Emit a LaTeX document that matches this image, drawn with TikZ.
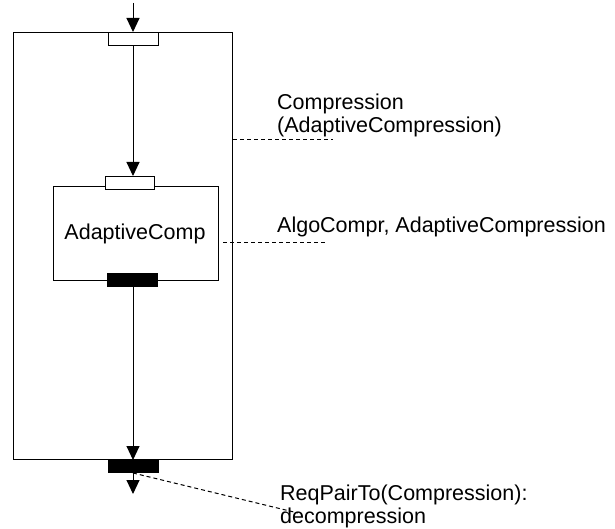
\documentclass[tikz,border=0pt]{standalone}
\usepackage{fontspec}
\setmainfont{Liberation Sans}
\usetikzlibrary{arrows.meta}
\begin{document}
\begin{tikzpicture}[x=1pt,y=-1pt,
  every node/.style={font=\fontsize{21.5}{23}\selectfont},
  box/.style={draw,line width=1pt,minimum width=#1,anchor=north west,inner sep=0},
  portin/.style={draw,fill=white,line width=1pt,minimum width=50pt,minimum height=13pt,inner sep=0,anchor=north west},
  portout/.style={draw,fill=black,line width=1pt,minimum width=50pt,minimum height=13pt,inner sep=0,anchor=north west},
  flow/.style={line width=1pt,-{Triangle[length=14pt,width=13pt]}},
  lead/.style={line width=1pt,dash pattern=on 4pt off 3pt},
  lbl/.style={anchor=base west,align=left,inner sep=0}]
\useasboundingbox (0,0) rectangle (615,529);

% enclosing component and its ports
\node[box=219pt,minimum height=427pt] (outer) at (13,32) {};
\node[portin] (oin) at (108,32) {};
\node[portout] (oout) at (108,459) {};

% nested component
\node[box=165pt,minimum height=94pt] (inner) at (53,186) {};
\node[portin,minimum width=49pt] (iin) at (105,176) {};
\node[portout] (iout) at (107,273) {};
\node[anchor=base,inner sep=0] (iname) at (135,240) {AdaptiveComp};

% data flow
\coordinate (src) at (133,3);
\coordinate (sink) at (133,494);
\draw[flow] (src) -- (src |- oin.north);
\draw[flow] (oin.south -| src) -- (src |- iin.north);
\draw[flow] (iout.south -| src) -- (src |- outer.south);
\draw[flow] (oout.south -| src) -- (sink);

% annotations (multi-line labels are placed by the baseline of their last line)
\coordinate (a1) at (333,140);
\coordinate (a2) at (325,242);
\coordinate (a3) at (298,513);
\draw[lead] (outer.east |- a1) -- (a1);
\draw[lead] ([xshift=4pt]inner.east |- a2) -- (a2);
\draw[lead] (oout.south -| src) -- (a3);

\node[lbl] (t1) at (277,133) {Compression\\(AdaptiveCompression)};
\node[lbl] (t2) at (277,233) {AlgoCompr, AdaptiveCompression};
\node[lbl] (t3) at (280,523) {ReqPairTo(Compression):\\decompression};
\end{tikzpicture}
\end{document}
